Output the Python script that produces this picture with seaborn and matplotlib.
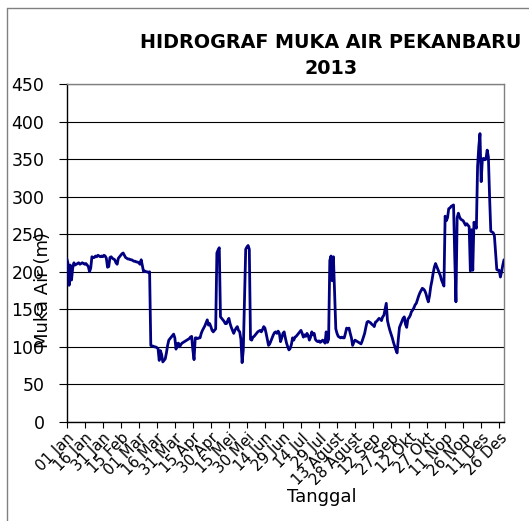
import numpy as np
import pandas as pd
import matplotlib
matplotlib.use("Agg")
import matplotlib.pyplot as plt
from matplotlib.lines import Line2D
import seaborn as sns

# ---- data (daily water level, m) ----
jan = [218, 212, 182, 209, 189, 205, 212, 209, 210, 211, 212, 210, 211, 212, 211, 210,
       211, 209, 207, 200, 205, 220, 219, 219, 221, 220, 222, 221, 220, 221, 220]
feb = [222, 221, 218, 206, 207, 219, 220, 218, 217, 216, 212, 210, 218, 220, 222, 224,
       225, 222, 219, 218, 217, 217, 216, 216, 215, 214, 214, 213]
mar = [213, 212, 210, 216, 208, 200, 201, 200, 200, 199, 200, 102, 101, 101, 100, 100,
       99, 98, 82, 95, 90, 80, 82, 84, 92, 102, 109, 111, 113, 115, 117]
apr = [112, 97, 104, 105, 100, 103, 105, 106, 107, 108, 109, 110, 111, 113, 114, 96,
       83, 112, 112, 111, 112, 112, 118, 122, 125, 128, 132, 136, 129, 131]
mei = [127, 122, 120, 122, 124, 225, 229, 232, 140, 138, 136, 134, 131, 131, 135, 138,
       131, 126, 122, 118, 122, 125, 127, 122, 120, 110, 79, 96, 165, 230, 233]
jun = [235, 230, 110, 109, 113, 114, 116, 118, 120, 121, 122, 120, 123, 127, 125, 118,
       110, 102, 104, 108, 112, 116, 119, 120, 118, 121, 118, 107, 112, 118]
jul = [120, 112, 105, 100, 96, 98, 103, 112, 109, 113, 114, 116, 118, 120, 122, 118,
       113, 116, 114, 118, 115, 109, 113, 120, 116, 118, 110, 108, 107, 108, 106]
agu = [107, 109, 108, 105, 120, 106, 110, 215, 221, 188, 220, 172, 124, 118, 114, 113,
       112, 113, 112, 112, 118, 125, 124, 125, 118, 112, 102, 106, 109, 108, 107]
sep = [106, 105, 104, 108, 113, 118, 126, 133, 134, 133, 132, 130, 129, 127, 133, 134,
       136, 138, 137, 135, 140, 142, 150, 158, 135, 128, 122, 117, 112, 106]
okt = [101, 96, 92, 110, 126, 130, 134, 138, 140, 130, 126, 137, 139, 142, 147, 149,
       152, 156, 158, 163, 168, 172, 175, 178, 177, 175, 171, 165, 160, 168, 180]
nov = [188, 198, 206, 211, 207, 203, 199, 195, 189, 185, 181, 274, 268, 272, 284, 285,
       287, 288, 289, 220, 160, 272, 278, 273, 270, 269, 268, 265, 262, 264]
des = [262, 260, 201, 256, 202, 266, 262, 258, 340, 366, 384, 320, 350, 351, 349, 350,
       362, 353, 300, 254, 253, 252, 248, 225, 203, 202, 202, 193, 200, 209, 216]

tick_labels = ["01 Jan", "16 Jan", "31 Jan", "15 Feb", "01 Mar", "16 Mar", "31 Mar",
               "15 Apr", "30 Apr", "15 Mei", "30 Mei", "14 Jun", "29 Jun", "14 Jul",
               "29 Jul", "13 Agust", "28 Agust", "12 Sep", "27 Sep", "12 Okt",
               "27 Okt", "11 Nop", "26 Nop", "11 Des", "26 Des"]
y_ticks = [0, 50, 100, 150, 200, 250, 300, 350, 400, 450]

values = jan + feb + mar + apr + mei + jun + jul + agu + sep + okt + nov + des
df = pd.DataFrame({"hari": np.arange(len(values)), "muka_air": values})

sns.set_style("white")
plt.rcParams["font.family"] = ["DejaVu Sans"]
plt.rcParams["text.color"] = "black"
plt.rcParams["axes.labelcolor"] = "black"
plt.rcParams["xtick.color"] = "black"
plt.rcParams["ytick.color"] = "black"

W, H = 529, 521
fig = plt.figure(figsize=(W / 100, H / 100), dpi=100)
left, right, top, bottom = 66.7, 504, 84, 422
ax = fig.add_axes([left / W, 1 - bottom / H, (right - left) / W, (bottom - top) / H])

sns.lineplot(data=df, x="hari", y="muka_air", ax=ax, color="#000080",
             linewidth=2.0, zorder=3)

ax.set_xlim(0, len(values) - 1)
ax.set_ylim(0, 450)
ax.set_yticks(y_ticks)
ax.set_yticklabels([str(v) for v in y_ticks], fontsize=12.5)
ax.set_xticks(np.arange(len(tick_labels)) * 15)
ax.set_xticklabels(tick_labels, rotation=45, ha="right", va="top",
                   rotation_mode="anchor", fontsize=10.8)
ax.grid(axis="y", color="black", linewidth=0.8)
ax.grid(axis="x", visible=False)
ax.tick_params(axis="y", direction="out", length=6, width=0.8, pad=10,
               colors="black", left=True)
ax.tick_params(axis="x", direction="out", length=4, width=0.8, pad=2,
               colors="black", bottom=True)
for side in ["left", "bottom"]:
    ax.spines[side].set_color("black")
    ax.spines[side].set_linewidth(1.0)
for side in ["right", "top"]:
    ax.spines[side].set_color("#808080")
    ax.spines[side].set_linewidth(1.0)

ax.set_xlabel("Tanggal", fontsize=13, labelpad=0)
ax.xaxis.set_label_coords((322 - left) / (right - left), -(488 - bottom) / (bottom - top))
ax.set_ylabel("Muka Air (m)", fontsize=13)
ax.yaxis.set_label_coords(-(left - 52) / (right - left), (bottom - 290) / (bottom - top))

fig.text(331 / W, 1 - 42 / H, "HIDROGRAF MUKA AIR PEKANBARU", ha="center", va="center",
         fontsize=13.8, fontweight="bold")
fig.text(331 / W, 1 - 68 / H, "2013", ha="center", va="center",
         fontsize=13.8, fontweight="bold")

# chart area border (left and top visible)
fig.add_artist(Line2D([7 / W, 7 / W], [0, 1 - 8 / H], transform=fig.transFigure,
                      color="#808080", linewidth=1.0))
fig.add_artist(Line2D([7 / W, 1], [1 - 8 / H, 1 - 8 / H], transform=fig.transFigure,
                      color="#808080", linewidth=1.0))

fig.savefig("out.png", dpi=100)
